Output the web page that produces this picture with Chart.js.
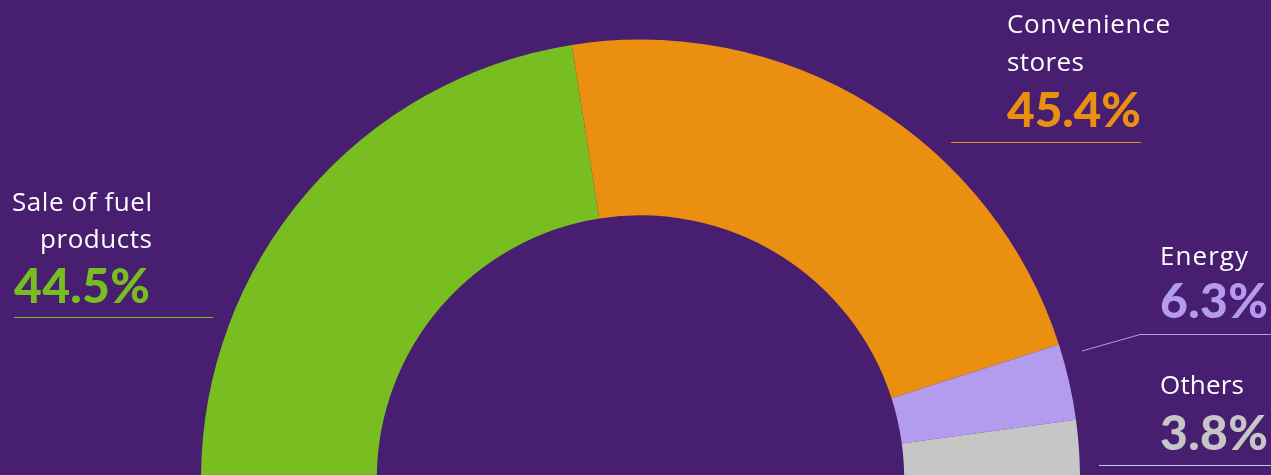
<!DOCTYPE html>
<html>
<head>
<meta charset="utf-8">
<script src="https://cdn.jsdelivr.net/npm/chart.js@4/dist/chart.umd.min.js"></script>
<style>
  html, body { margin: 0; padding: 0; background: #471e70; overflow: hidden; }
  #wrap { position: relative; width: 1271px; height: 475px; background: #471e70; }
  #c { position: absolute; left: 0; top: 0; }
  #labels { position: absolute; left: 0; top: 0; }
  .name { font-family: "Open Sans", sans-serif; font-size: 26px; fill: #ffffff; }
  .pct { font-family: "Lato", sans-serif; font-weight: 900; font-size: 48px; }
</style>
</head>
<body>
<div id="wrap">
  <canvas id="c" width="1271" height="475"></canvas>
  <svg id="labels" width="1271" height="475" xmlns="http://www.w3.org/2000/svg"></svg>
</div>
<script>
// ---- data ----
const categories = ['Sale of fuel products', 'Convenience stores', 'Energy', 'Others'];
// arc sizes as drawn in the picture (share of the half ring)
const arcShares = [45.0, 45.1, 5.6, 4.3];
// printed percentage labels
const shareLabels = ['44.5%', '45.4%', '6.3%', '3.8%'];
const nameLines = [['Sale of fuel', 'products'], ['Convenience', 'stores'], ['Energy'], ['Others']];
const sliceColors = ['#79be20', '#eb8f11', '#b39bed', '#c6c6c6'];

const chart = new Chart(document.getElementById('c'), {
  type: 'doughnut',
  data: {
    labels: categories,
    datasets: [{
      data: arcShares,
      backgroundColor: sliceColors,
      borderWidth: 0,
      hoverOffset: 0
    }]
  },
  options: {
    responsive: false,
    animation: false,
    devicePixelRatio: 1,
    rotation: -90,
    circumference: 180,
    radius: 439.5,
    cutout: '60%',
    layout: { padding: { left: 10, top: 43.5, right: 0, bottom: 0 } },
    events: [],
    plugins: { legend: { display: false }, tooltip: { enabled: false } }
  }
});

// ---- labels (real text) ----
const svg = document.getElementById('labels');
const NS = 'http://www.w3.org/2000/svg';
function txt(str, x, y, cls, anchor, fill, len) {
  const t = document.createElementNS(NS, 'text');
  t.setAttribute('x', x); t.setAttribute('y', y);
  t.setAttribute('class', cls);
  t.setAttribute('text-anchor', anchor || 'start');
  if (fill) t.setAttribute('fill', fill);
  if (len) { t.setAttribute('textLength', len); t.setAttribute('lengthAdjust', 'spacing'); }
  t.textContent = str;
  svg.appendChild(t);
}
function poly(points, color) {
  const p = document.createElementNS(NS, 'polyline');
  p.setAttribute('points', points);
  p.setAttribute('fill', 'none');
  p.setAttribute('stroke', color);
  p.setAttribute('stroke-width', '1');
  svg.appendChild(p);
}
// Sale of fuel products
txt(nameLines[0][0], 152, 211, 'name', 'end', null, 140);
txt(nameLines[0][1], 152, 248, 'name', 'end', null, 112);
txt(shareLabels[0], 14, 303, 'pct', 'start', sliceColors[0], 136);
poly('14,317.5 213,317.5', sliceColors[0]);
// Convenience stores
txt(nameLines[1][0], 1007, 33, 'name', 'start', null, 163);
txt(nameLines[1][1], 1007, 71, 'name', 'start', null, 77);
txt(shareLabels[1], 1007, 127, 'pct', 'start', sliceColors[1], 134);
poly('951,142.5 1141,142.5', sliceColors[1]);
// Energy
txt(nameLines[2][0], 1160, 265, 'name', 'start', null, 88);
txt(shareLabels[2], 1160, 318, 'pct', 'start', sliceColors[2], 108);
poly('1082,351 1140,334.5 1271,334.5', sliceColors[2]);
// Others
txt(nameLines[3][0], 1160, 394, 'name', 'start', null, 84);
txt(shareLabels[3], 1160, 450, 'pct', 'start', sliceColors[3], 108);
poly('1099,465.5 1271,465.5', '#cfc6e4');
</script>
</body>
</html>
